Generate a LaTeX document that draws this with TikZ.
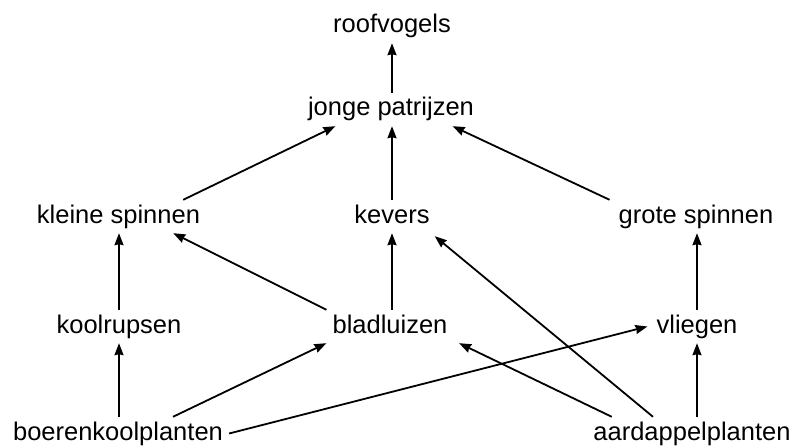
\documentclass[tikz,border=0pt]{standalone}
\usepackage{fontspec}
\setmainfont{Liberation Sans}
\usetikzlibrary{arrows.meta}
\begin{document}
\begin{tikzpicture}[x=1pt,y=-1pt,
    soort/.style={anchor=base,inner xsep=0pt,inner ysep=4pt,
      text height=19pt,text depth=6pt,font=\fontsize{25.5}{30}\selectfont},
    eet/.style={-{Stealth[length=12pt,width=9pt,inset=1pt]},line width=1.8pt}]
  \useasboundingbox (0,0) rectangle (802,446);
  \draw
    (392,33) node[soort] (rv){roofvogels}
    (391,116) node[soort] (jp){jonge patrijzen}
    (118.5,223) node[soort] (ks){kleine spinnen}
    (392,223) node[soort] (kv){kevers}
    (696,223) node[soort] (gs){grote spinnen}
    (119,333) node[soort] (kr){koolrupsen}
    (390,333) node[soort] (bl){bladluizen}
    (697,333) node[soort] (vl){vliegen}
    (118,440) node[soort] (bk){boerenkoolplanten}
    (692,440) node[soort] (ap){aardappelplanten};
  \begin{scope}[eet]
    \draw (jp.north -| rv.south) to (rv.south);
    \draw ([xshift=-17pt]ks.north east) to ([xshift=27.5pt]jp.south west);
    \draw (kv.north) to (kv.north |- jp.south);
    \draw ([xshift=-9pt]gs.north west) to ([xshift=-21.5pt]jp.south east);
    \draw (kr.north) to (kr.north |- ks.south);
    \draw ([xshift=-6pt]bl.north west) to ([xshift=-27pt]ks.south east);
    \draw (bl.north -| kv.south) to (kv.south);
    \draw (vl.north) to (vl.north |- gs.south);
    \draw (bk.north -| kr.south) to (kr.south);
    \draw ([xshift=55pt]bk.north) to ([xshift=-6pt]bl.south west);
    \draw ([xshift=6pt]bk.east) to ([xshift=-9pt]vl.west);
    \draw ([xshift=18.5pt]ap.north west) to ([xshift=11.5pt]bl.south east);
    \draw ([xshift=-39pt]ap.north) to ([xshift=5pt,yshift=-3pt]kv.south east);
    \draw (ap.north -| vl.south) to (vl.south);
  \end{scope}
\end{tikzpicture}
\end{document}
